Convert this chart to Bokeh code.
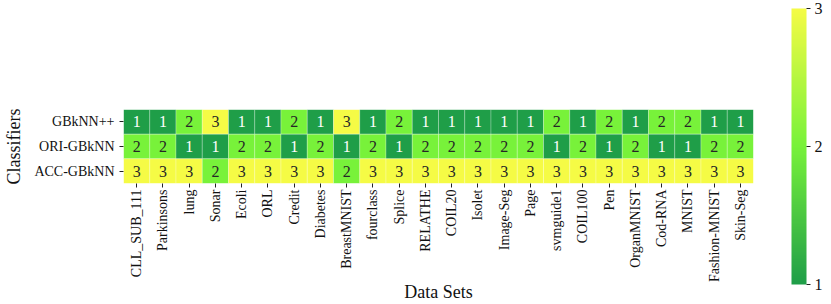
import numpy as np
from bokeh.plotting import figure
from bokeh.models import ColumnDataSource, FactorRange, FixedTicker, LinearColorMapper, ColorBar
from bokeh.transform import transform
from bokeh.core.properties import value
from bokeh.embed import file_html
from bokeh.resources import INLINE

datasets = ["CLL_SUB_111", "Parkinsons", "lung", "Sonar", "Ecoli", "ORL", "Credit", "Diabetes",
            "BreastMNIST", "fourclass", "Splice", "RELATHE", "COIL20", "Isolet", "Image-Seg", "Page",
            "svmguide1", "COIL100", "Pen", "OrganMNIST", "Cod-RNA", "MNIST", "Fashion-MNIST", "Skin-Seg"]
classifiers = ["GBkNN++", "ORI-GBkNN", "ACC-GBkNN"]
gbknnpp = [1, 1, 2, 3, 1, 1, 2, 1, 3, 1, 2, 1, 1, 1, 1, 1, 2, 1, 2, 1, 2, 2, 1, 1]
ori_gbknn = [2, 2, 1, 1, 2, 2, 1, 2, 1, 2, 1, 2, 2, 2, 2, 2, 1, 2, 1, 2, 1, 1, 2, 2]
acc_gbknn = [3, 3, 3, 2, 3, 3, 3, 3, 2, 3, 3, 3, 3, 3, 3, 3, 3, 3, 3, 3, 3, 3, 3, 3]
cbar_ticks = [1, 2, 3]

FONT = "Liberation Serif"

# colour map: dark green -> bright green -> yellow
anchors = [(0x1f, 0x9e, 0x48), (0x78, 0xf2, 0x3a), (0xf5, 0xfb, 0x45)]
palette = []
n = 256
for i in range(n):
    t = i / (n - 1) * 2
    k = min(int(t), 1)
    f = t - k
    a, b = anchors[k], anchors[k + 1]
    c = tuple(int(round(a[j] + (b[j] - a[j]) * f)) for j in range(3))
    palette.append("#%02x%02x%02x" % c)
mapper = LinearColorMapper(palette=palette, low=1, high=3)

xs, ys, vals = [], [], []
for cname, series in zip(classifiers, [gbknnpp, ori_gbknn, acc_gbknn]):
    for d, v in zip(datasets, series):
        xs.append(d)
        ys.append(cname)
        vals.append(v)
src = ColumnDataSource(dict(x=xs, y=ys, v=vals, t=[str(v) for v in vals],
                            tc=["white" if v == 1 else "#262626" for v in vals]))

p = figure(x_range=FactorRange(*datasets), y_range=FactorRange(*classifiers[::-1]),
           frame_width=630, frame_height=74, min_border_left=123, min_border_right=78,
           min_border_top=109, min_border_bottom=112,
           output_backend="svg", toolbar_location=None, tools="")
p.rect(x="x", y="y", width=1, height=1, source=src,
       fill_color=transform("v", mapper),
       line_color="white", line_width=0.5, line_alpha=0.5)
p.text(x="x", y="y", text="t", source=src, text_color="tc",
       text_align="center", text_baseline="middle",
       text_font=value(FONT), text_font_size="16px")

p.outline_line_color = None
p.grid.grid_line_color = None
for ax in (p.xaxis, p.yaxis):
    ax.axis_line_color = None
    ax.major_tick_in = 0
    ax.major_tick_out = 4
    ax.major_tick_line_color = "#222222"
    ax.major_label_text_font = FONT
    ax.major_label_text_color = "#111111"
    ax.major_label_text_font_size = "14px"
    ax.axis_label_text_font = FONT
    ax.axis_label_text_font_size = "18px"
    ax.axis_label_text_font_style = "normal"
    ax.axis_label_text_color = "#111111"
p.xaxis.major_label_orientation = np.pi / 2
p.xaxis.major_label_standoff = 2
p.yaxis.major_label_standoff = 5
p.xaxis.axis_label = "Data Sets"
p.yaxis.axis_label = "Classifiers"
p.xaxis.axis_label_standoff = -3
p.yaxis.axis_label_standoff = 7

cbar = ColorBar(color_mapper=mapper, ticker=FixedTicker(ticks=cbar_ticks),
                width=15, height=276, location=(668, -101), padding=0, margin=0,
                bar_line_color=None, border_line_color=None, background_fill_alpha=0,
                major_tick_in=0, major_tick_out=4, major_tick_line_color="#222222",
                minor_tick_line_color=None, label_standoff=4,
                major_label_text_font=FONT, major_label_text_font_size="16px",
                major_label_text_color="#111111")
p.add_layout(cbar, "center")

open("out.html", "w").write(file_html(p, INLINE))
